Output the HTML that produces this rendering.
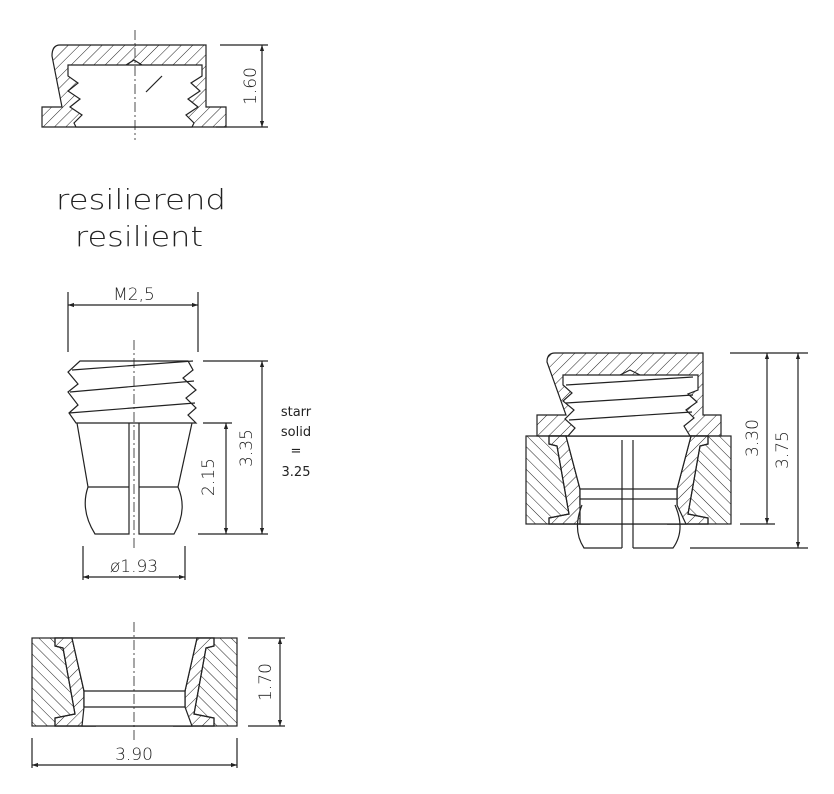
<!DOCTYPE html>
<html><head><meta charset="utf-8"><style>
html,body{margin:0;padding:0;background:#fff}
svg{display:block}
text{font-family:"DejaVu Sans","Liberation Sans",sans-serif;fill:#222}
.t{font-weight:200}
</style></head><body>
<svg width="834" height="794" viewBox="0 0 834 794" xmlns="http://www.w3.org/2000/svg">
<defs>
<pattern id="h1" width="8" height="8" patternUnits="userSpaceOnUse" patternTransform="rotate(45)"><line x1="0" y1="0" x2="0" y2="8" stroke="#222" stroke-width="1"/></pattern>
<pattern id="h2" width="8" height="8" patternUnits="userSpaceOnUse" patternTransform="rotate(-45)"><line x1="0" y1="0" x2="0" y2="8" stroke="#222" stroke-width="1"/></pattern>
<marker id="a" viewBox="0 0 10 10" refX="10" refY="5" markerWidth="10" markerHeight="6" orient="auto-start-reverse" markerUnits="userSpaceOnUse"><path d="M0,1.5 L10,5 L0,8.5 Z" fill="#222"/></marker>
</defs>
<g stroke="#222" stroke-width="1.2" fill="none">

<!-- TOP CAP -->
<path d="M60,45 L206,45 L206,107 L226,107 L226,127 L42,127 L42,107 L62,107 L52,56 Q52,45 60,45 Z" fill="url(#h1)"/>
<path d="M68,65 L202,65 L202,76 L191,83 L200,91 L188,99 L198,107 L186,115 L194,123 L192,127 L76,127 L74,123 L82,115 L70,107 L80,99 L68,91 L78,83 L68,76 Z" fill="#fff"/>
<path d="M126,65 L134,60 L142,65" />
<line x1="146" y1="92" x2="162" y2="76"/>
<line x1="135" y1="30" x2="135" y2="140" stroke-dasharray="10,3,2,3" stroke-width="0.8"/>
<line x1="220" y1="45" x2="268" y2="45"/>
<line x1="216" y1="127" x2="268" y2="127"/>
<line x1="262" y1="45" x2="262" y2="127" marker-start="url(#a)" marker-end="url(#a)"/>

<!-- MIDDLE PLUG -->
<line x1="68" y1="292" x2="68" y2="352"/>
<line x1="198" y1="292" x2="198" y2="352"/>
<line x1="68" y1="305" x2="198" y2="305" marker-start="url(#a)" marker-end="url(#a)"/>
<path d="M80,361 L188,361 L193,370 L183,378 L196,390 L186,398 L196,408 L188,415 L196,423 L76,423 L69,413 L78,405 L68,392 L78,384 L68,372 Z" fill="#fff"/>
<line x1="72" y1="370" x2="193" y2="361"/>
<line x1="70" y1="392" x2="194" y2="381"/>
<line x1="69" y1="413" x2="195" y2="403"/>
<path d="M77,423 L88,487 Q80,510 95,534 L129,534 L129,423"/>
<path d="M192,423 L178,487 Q188,510 174,534 L139,534 L139,423"/>
<line x1="88" y1="487" x2="129" y2="487"/>
<line x1="139" y1="487" x2="178" y2="487"/>
<line x1="134" y1="340" x2="134" y2="548" stroke-dasharray="10,3,2,3" stroke-width="0.8"/>
<line x1="83" y1="546" x2="83" y2="580"/>
<line x1="185" y1="546" x2="185" y2="580"/>
<line x1="83" y1="577" x2="185" y2="577" marker-start="url(#a)" marker-end="url(#a)"/>
<line x1="203" y1="361" x2="268" y2="361"/>
<line x1="198" y1="534" x2="268" y2="534"/>
<line x1="262" y1="361" x2="262" y2="534" marker-start="url(#a)" marker-end="url(#a)"/>
<line x1="203" y1="423" x2="232" y2="423"/>
<line x1="226" y1="423" x2="226" y2="534" marker-start="url(#a)" marker-end="url(#a)"/>

<!-- BOTTOM WASHER -->
<rect x="32" y="638" width="205" height="88" fill="url(#h2)"/>
<path d="M55,638 L55,646 L63,648 L75,714 L55,718 L55,726 L95,726 L84,707 L84,691 L72,638 Z" fill="#fff"/>
<path d="M55,638 L55,646 L63,648 L75,714 L55,718 L55,726 L95,726 L84,707 L84,691 L72,638 Z" fill="url(#h1)"/>
<path d="M214,638 L214,646 L206,648 L194,714 L214,718 L214,726 L174,726 L185,707 L185,691 L197,638 Z" fill="#fff"/>
<path d="M214,638 L214,646 L206,648 L194,714 L214,718 L214,726 L174,726 L185,707 L185,691 L197,638 Z" fill="url(#h1)"/>
<path d="M72,638 L197,638 L185,691 L185,707 L192,726 L82,726 L84,707 L84,691 Z" fill="#fff"/>
<line x1="84" y1="691" x2="185" y2="691"/>
<line x1="84" y1="707" x2="185" y2="707"/>
<line x1="134" y1="622" x2="134" y2="740" stroke-dasharray="10,3,2,3" stroke-width="0.8"/>
<line x1="248" y1="638" x2="285" y2="638"/>
<line x1="248" y1="726" x2="285" y2="726"/>
<line x1="280" y1="638" x2="280" y2="726" marker-start="url(#a)" marker-end="url(#a)"/>
<line x1="32" y1="738" x2="32" y2="768"/>
<line x1="237" y1="738" x2="237" y2="768"/>
<line x1="32" y1="765" x2="237" y2="765" marker-start="url(#a)" marker-end="url(#a)"/>

<!-- RIGHT ASSEMBLY -->
<rect x="526" y="436" width="205" height="88" fill="url(#h2)"/>
<path d="M549,436 L549,444 L557,446 L569,514 L549,518 L549,524 L589,524 L580,505 L580,489 L566,436 Z" fill="#fff"/>
<path d="M549,436 L549,444 L557,446 L569,514 L549,518 L549,524 L589,524 L580,505 L580,489 L566,436 Z" fill="url(#h1)"/>
<path d="M708,436 L708,444 L700,446 L688,514 L708,518 L708,524 L668,524 L677,505 L677,489 L691,436 Z" fill="#fff"/>
<path d="M708,436 L708,444 L700,446 L688,514 L708,518 L708,524 L668,524 L677,505 L677,489 L691,436 Z" fill="url(#h1)"/>
<path d="M566,436 L691,436 L677,489 L677,505 L686,524 L580,524 L580,505 L580,489 Z" fill="#fff"/>
<path d="M555,353 L703,353 L703,415 L721,415 L721,436 L537,436 L537,415 L566,415 L547,362 Q547,353 555,353 Z" fill="url(#h1)"/>
<path d="M563,375 L698,375 L698,390 L688,394 L697,402 L686,410 L694,418 L684,426 L690,436 L568,436 L575,428 L565,419 L574,410 L563,401 L572,393 L563,385 Z" fill="#fff"/>
<line x1="566" y1="385" x2="693" y2="377"/>
<line x1="566" y1="403" x2="693" y2="395"/>
<line x1="569" y1="420" x2="692" y2="412"/>
<path d="M620,375 L630,370 L640,375"/>
<line x1="580" y1="489" x2="677" y2="489"/>
<line x1="580" y1="499" x2="677" y2="499"/>
<line x1="622" y1="440" x2="622" y2="548"/>
<line x1="633" y1="440" x2="633" y2="548"/>
<path d="M582,505 Q572,530 584,548 L622,548"/>
<path d="M675,505 Q686,530 673,548 L633,548"/>
<line x1="730" y1="353" x2="808" y2="353"/>
<line x1="740" y1="524" x2="775" y2="524"/>
<line x1="690" y1="548" x2="808" y2="548"/>
<line x1="767" y1="353" x2="767" y2="524" marker-start="url(#a)" marker-end="url(#a)"/>
<line x1="798" y1="353" x2="798" y2="548" marker-start="url(#a)" marker-end="url(#a)"/>
</g>

<g class="t">
<text x="250" y="86" font-size="17" text-anchor="middle" transform="rotate(-90 250 86)" dy="6">1.60</text>
<text x="56" y="209" font-size="28" textLength="170" lengthAdjust="spacingAndGlyphs">resilierend</text>
<text x="75" y="246" font-size="28" textLength="128" lengthAdjust="spacingAndGlyphs">resilient</text>
<text x="134" y="300" font-size="17" text-anchor="middle">M2,5</text>
<text x="134" y="572" font-size="17" text-anchor="middle">ø1.93</text>
<text x="208" y="477" font-size="17" text-anchor="middle" transform="rotate(-90 208 477)" dy="6">2.15</text>
<text x="246" y="448" font-size="17" text-anchor="middle" transform="rotate(-90 246 448)" dy="6">3.35</text>
<text x="265" y="682" font-size="17" text-anchor="middle" transform="rotate(-90 265 682)" dy="6">1.70</text>
<text x="134" y="760" font-size="17" text-anchor="middle">3.90</text>
<text x="752" y="438" font-size="17" text-anchor="middle" transform="rotate(-90 752 438)" dy="6">3.30</text>
<text x="782" y="450" font-size="17" text-anchor="middle" transform="rotate(-90 782 450)" dy="6">3.75</text>
</g>
<g font-family="Liberation Sans, sans-serif" font-size="13" text-anchor="middle" fill="#222">
<text x="296" y="416">starr</text>
<text x="296" y="436">solid</text>
<text x="296" y="455">=</text>
<text x="296" y="476">3.25</text>
</g>
</svg>
</body></html>
